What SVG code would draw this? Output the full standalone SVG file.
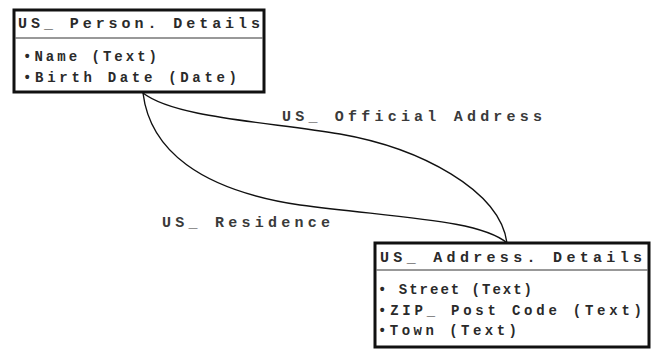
<svg xmlns="http://www.w3.org/2000/svg" width="652" height="349" viewBox="0 0 652 349">
  <style>
    .frame { fill: #fff; stroke: #111; stroke-width: 3; }
    .sep { stroke: #333; stroke-width: 1; }
    .head { font-family: "Liberation Mono", "DejaVu Sans Mono", monospace; font-size: 15px; font-weight: bold; fill: #2a2a2a; }
    .attr { font-family: "Liberation Mono", "DejaVu Sans Mono", monospace; font-size: 14px; font-weight: bold; fill: #2a2a2a; }
    .rel { fill: none; stroke: #111; stroke-width: 1.4; }
    .lbl { font-family: "Liberation Mono", "DejaVu Sans Mono", monospace; font-size: 15px; font-weight: bold; fill: #3a3a3a; }
  </style>
  <rect width="652" height="349" fill="#fff"/>

  <!-- relationships between the two tables -->
  <g id="connectors">
    <path class="rel" d="M143,93 C175,118 270,122 340,134 C420,148 500,190 507,243"/>
    <path class="rel" d="M143,93 C150,150 200,190 300,205 C400,218 480,220 507,243"/>
    <text class="lbl" x="282" y="121" textLength="260" lengthAdjust="spacing">US_ Official Address</text>
    <text class="lbl" x="162" y="227" textLength="168" lengthAdjust="spacing">US_ Residence</text>
  </g>

  <!-- person table -->
  <g id="person-details">
    <rect class="frame" x="14" y="10" width="250" height="82"/>
    <line class="sep" x1="15.5" y1="38" x2="262.5" y2="38"/>
    <text class="head" x="18" y="28" textLength="242" lengthAdjust="spacing">US_ Person. Details</text>
    <text class="attr" x="23" y="61" textLength="134" lengthAdjust="spacing">•Name (Text)</text>
    <text class="attr" x="23" y="82" textLength="214" lengthAdjust="spacing">•Birth Date (Date)</text>
  </g>

  <!-- address table -->
  <g id="address-details">
    <rect class="frame" x="375" y="243" width="274" height="104"/>
    <line class="sep" x1="376.5" y1="270" x2="647.5" y2="270"/>
    <text class="head" x="380" y="262" textLength="262" lengthAdjust="spacing">US_ Address. Details</text>
    <text class="attr" x="378" y="294" textLength="154" lengthAdjust="spacing">• Street (Text)</text>
    <text class="attr" x="378" y="315" textLength="264" lengthAdjust="spacing">•ZIP_ Post Code (Text)</text>
    <text class="attr" x="378" y="335" textLength="139" lengthAdjust="spacing">•Town (Text)</text>
  </g>
</svg>
